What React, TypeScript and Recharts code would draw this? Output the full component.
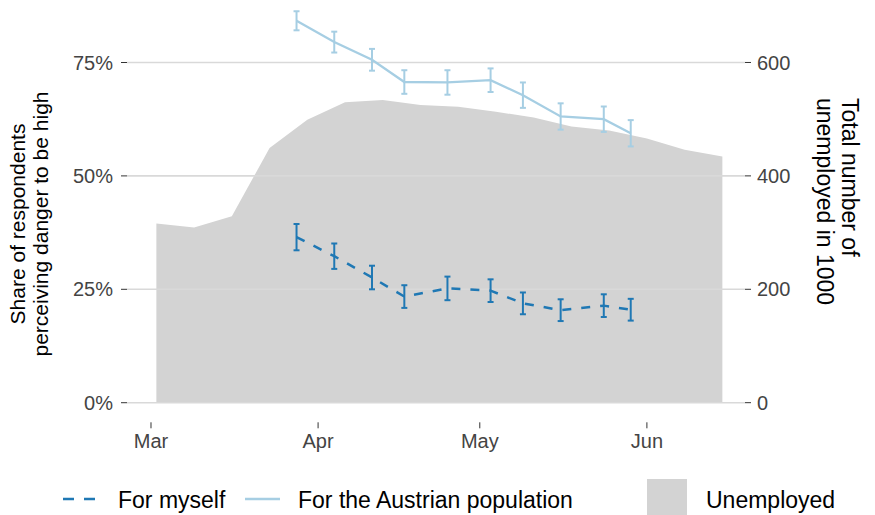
import {
  Area,
  ComposedChart,
  ErrorBar,
  Label,
  Legend,
  Line,
  ReferenceLine,
  XAxis,
  YAxis,
} from "recharts";

// x positions are days since 1 March
const monthTicks = [0, 31, 61, 92];
const monthLabels = ["Mar", "Apr", "May", "Jun"];

const surveyDays = [27, 34, 41, 47, 55, 63, 69, 76, 84, 89];
const myselfShare = [0.365, 0.323, 0.276, 0.234, 0.252, 0.247, 0.219, 0.204, 0.214, 0.205];
const myselfErr = [0.029, 0.028, 0.026, 0.025, 0.026, 0.025, 0.024, 0.024, 0.025, 0.024];
const austriaShare = [0.842, 0.795, 0.756, 0.707, 0.706, 0.711, 0.678, 0.631, 0.625, 0.594];
const austriaErr = [0.021, 0.023, 0.024, 0.026, 0.027, 0.026, 0.028, 0.029, 0.028, 0.029];

const unemployedDays = [1, 8, 15, 22, 29, 36, 43, 50, 57, 64, 71, 78, 85, 92, 99, 106];
const unemployed = [316, 309, 329, 449, 499, 530, 534, 525, 522, 513, 503, 487, 480, 466, 446, 434];

const shareTicks = [0, 0.25, 0.5, 0.75];
const unemployedTicks = [0, 200, 400, 600];

const DARK = "#1f78b4";
const LIGHT = "#a6cee3";
const GREY = "#d3d3d3";
const FONT = "'Liberation Sans', Arial, sans-serif";

const myselfData = surveyDays.map((day, i) => ({ day, share: myselfShare[i], err: myselfErr[i] }));
const austriaData = surveyDays.map((day, i) => ({ day, share: austriaShare[i], err: austriaErr[i] }));
const unemployedData = unemployedDays.map((day, i) => ({ day, value: unemployed[i] }));

// two-line rotated axis title
function AxisTitle({ lines, cx, cy, angle, anchor = "middle", fontSize = 21, lh = 23 }: any) {
  return (
    <text
      x={cx}
      y={cy}
      transform={`rotate(${angle}, ${cx}, ${cy})`}
      textAnchor={anchor}
      fontSize={fontSize}
      fontFamily={FONT}
      fill="#000"
    >
      {lines.map((t: string, i: number) => (
        <tspan key={t} x={cx} dy={i === 0 ? -lh / 2 + fontSize * 0.35 : lh}>
          {t}
        </tspan>
      ))}
    </text>
  );
}

function LegendContent() {
  const text = { position: "absolute" as const, top: 20, fontSize: 23, fontFamily: FONT, color: "#000", lineHeight: "30px" };
  return (
    <div style={{ position: "relative", width: 875, height: 50 }}>
      <svg style={{ position: "absolute", left: 62, top: 30 }} width={34} height={8}>
        <line x1={1} y1={4} x2={33} y2={4} stroke={DARK} strokeWidth={2.5} strokeDasharray="11 10" />
      </svg>
      <span style={{ ...text, left: 118 }}>For myself</span>
      <svg style={{ position: "absolute", left: 245, top: 30 }} width={35} height={8}>
        <line x1={0} y1={4} x2={35} y2={4} stroke={LIGHT} strokeWidth={2.5} />
      </svg>
      <span style={{ ...text, left: 298 }}>For the Austrian population</span>
      <div style={{ position: "absolute", left: 647, top: 14, width: 40, height: 36, background: GREY }} />
      <span style={{ ...text, left: 706 }}>Unemployed</span>
    </div>
  );
}

export default function App() {
  const tick = { fontSize: 20, fontFamily: FONT, fill: "#444" };
  return (
    <div style={{ position: "absolute", left: 0, top: 0, width: 875, height: 515, overflow: "hidden", background: "#fff" }}>
      <ComposedChart width={875} height={515} margin={{ top: 0, right: 0, bottom: 0, left: 0 }}>
        {shareTicks.map((v) => (
          <ReferenceLine key={v} yAxisId="left" y={v} stroke="#d9d9d9" strokeWidth={1.6} />
        ))}
        <XAxis
          type="number"
          dataKey="day"
          domain={[-4.45, 110.2]}
          ticks={monthTicks}
          tickFormatter={(v: number) => monthLabels[monthTicks.indexOf(v)]}
          allowDataOverflow
          axisLine={false}
          tickLine={{ stroke: "#333" }}
          tickSize={6}
          tickMargin={5}
          height={42.7}
          tick={tick}
        />
        <YAxis
          yAxisId="left"
          domain={[-0.0432, 0.8878]}
          ticks={shareTicks}
          tickFormatter={(v: number) => `${Math.round(v * 100)}%`}
          allowDataOverflow
          axisLine={false}
          tickLine={{ stroke: "#333" }}
          tickSize={6}
          tickMargin={8}
          width={127}
          tick={tick}
        >
          <Label
            content={() => (
              <AxisTitle cx={29.5} cy={224} angle={-90} lines={["Share of respondents", "perceiving danger to be high"]} />
            )}
          />
        </YAxis>
        <YAxis
          yAxisId="right"
          orientation="right"
          domain={[-34.6, 710.2]}
          ticks={unemployedTicks}
          allowDataOverflow
          axisLine={false}
          tickLine={{ stroke: "#333" }}
          tickSize={6}
          tickMargin={6}
          width={130}
          tick={tick}
        >
          <Label
            content={() => (
              <AxisTitle
                cx={837.5}
                cy={98}
                angle={90}
                anchor="start"
                fontSize={23}
                lh={25}
                lines={["Total number of", "unemployed in 1000"]}
              />
            )}
          />
        </YAxis>
        <Area
          yAxisId="right"
          data={unemployedData}
          dataKey="value"
          type="linear"
          baseValue={0}
          fill={GREY}
          fillOpacity={1}
          stroke="none"
          isAnimationActive={false}
        />
        <Line
          yAxisId="left"
          data={austriaData}
          dataKey="share"
          type="linear"
          stroke={LIGHT}
          strokeWidth={2.3}
          dot={false}
          activeDot={false}
          isAnimationActive={false}
        >
          <ErrorBar dataKey="err" direction="y" width={3} stroke={LIGHT} strokeWidth={2} isAnimationActive={false} />
        </Line>
        <Line
          yAxisId="left"
          data={myselfData}
          dataKey="share"
          type="linear"
          stroke={DARK}
          strokeWidth={2.5}
          strokeDasharray="9 10"
          dot={false}
          activeDot={false}
          isAnimationActive={false}
        >
          <ErrorBar dataKey="err" direction="y" width={3} stroke={DARK} strokeWidth={2} isAnimationActive={false} />
        </Line>
        <Legend
          verticalAlign="bottom"
          content={() => <LegendContent />}
          wrapperStyle={{ left: 0, bottom: 0, width: 875, height: 50 }}
        />
      </ComposedChart>
    </div>
  );
}
